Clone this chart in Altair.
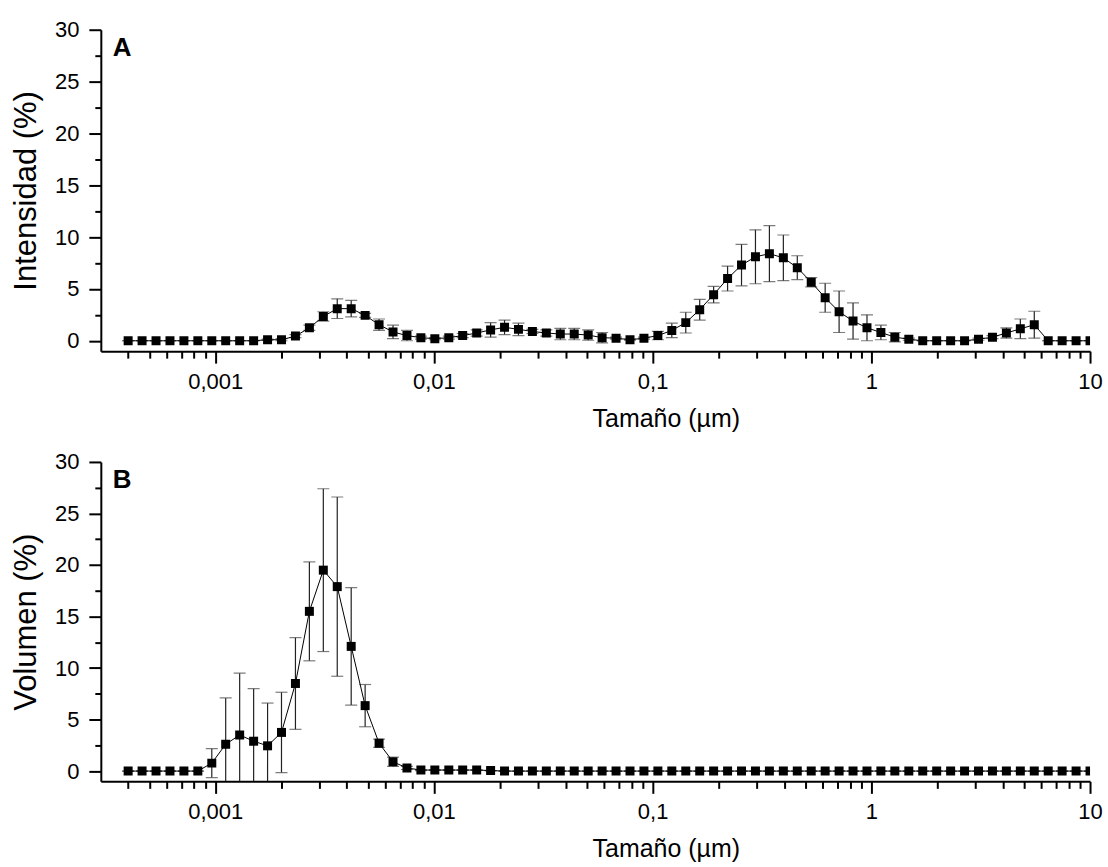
import altair as alt
import pandas as pd

# Malvern size classes (nm)
size_nm = [0.4, 0.4632, 0.5365, 0.6213, 0.7195, 0.8332, 0.9650, 1.117, 1.294, 1.499,
           1.736, 2.010, 2.328, 2.696, 3.122, 3.615, 4.187, 4.849, 5.615, 6.503,
           7.531, 8.721, 10.10, 11.70, 13.54, 15.69, 18.17, 21.04, 24.36, 28.21,
           32.67, 37.84, 43.82, 50.75, 58.77, 68.06, 78.82, 91.28, 105.7, 122.4,
           141.8, 164.2, 190.1, 220.2, 255.0, 295.3, 342.0, 396.1, 458.7, 531.2,
           615.1, 712.4, 825.0, 955.4, 1106, 1281, 1484, 1718, 1990, 2305,
           2669, 3091, 3580, 4145, 4801, 5560, 6439, 7456, 8635, 10000]

int_mean = [0, 0, 0, 0, 0, 0, 0, 0, 0, 0,
            0.1, 0.1, 0.45, 1.25, 2.35, 3.1, 3.1, 2.45, 1.55, 0.85,
            0.5, 0.3, 0.2, 0.3, 0.5, 0.75, 1.05, 1.3, 1.1, 0.9,
            0.75, 0.65, 0.65, 0.55, 0.3, 0.25, 0.1, 0.25, 0.5, 1.0,
            1.75, 3.0, 4.45, 6.0, 7.3, 8.1, 8.4, 8.0, 7.05, 5.65,
            4.15, 2.8, 1.9, 1.25, 0.8, 0.35, 0.15, 0, 0, 0,
            0, 0.15, 0.35, 0.75, 1.15, 1.55, 0, 0, 0, 0]
int_err = [0, 0, 0, 0, 0, 0, 0, 0, 0, 0,
           0.05, 0.1, 0.15, 0.25, 0.45, 0.95, 0.8, 0.2, 0.55, 0.65,
           0.5, 0.15, 0.1, 0.15, 0.2, 0.3, 0.7, 0.7, 0.6, 0.2,
           0.3, 0.55, 0.55, 0.5, 0.5, 0.1, 0.05, 0.1, 0.4, 0.7,
           1.0, 1.0, 0.8, 1.2, 2.0, 2.6, 2.7, 2.2, 1.15, 0.45,
           1.4, 2.0, 1.75, 1.25, 0.7, 0.45, 0.1, 0, 0, 0,
           0, 0.1, 0.15, 0.5, 0.95, 1.3, 0, 0, 0, 0]

vol_mean = [0, 0, 0, 0, 0, 0, 0.77, 2.6, 3.5, 2.9,
            2.45, 3.75, 8.5, 15.5, 19.5, 17.9, 12.1, 6.35, 2.7, 0.9,
            0.3, 0.1, 0.1, 0.1, 0.1, 0.1, 0.05, 0, 0, 0,
            0, 0, 0, 0, 0, 0, 0, 0, 0, 0,
            0, 0, 0, 0, 0, 0, 0, 0, 0, 0,
            0, 0, 0, 0, 0, 0, 0, 0, 0, 0,
            0, 0, 0, 0, 0, 0, 0, 0, 0, 0]
vol_err = [0, 0, 0, 0, 0, 0, 1.4, 4.5, 6.0, 5.1,
           4.15, 3.9, 4.45, 4.8, 7.9, 8.7, 5.7, 2.05, 0.4, 0.45,
           0.15, 0.05, 0, 0, 0, 0, 0, 0, 0, 0,
           0, 0, 0, 0, 0, 0, 0, 0, 0, 0,
           0, 0, 0, 0, 0, 0, 0, 0, 0, 0,
           0, 0, 0, 0, 0, 0, 0, 0, 0, 0,
           0, 0, 0, 0, 0, 0, 0, 0, 0, 0]

x_major = [0.001, 0.01, 0.1, 1, 10]
x_minor = [0.0004, 0.0005, 0.0006, 0.0007, 0.0008, 0.0009,
           0.002, 0.003, 0.004, 0.005, 0.006, 0.007, 0.008, 0.009,
           0.02, 0.03, 0.04, 0.05, 0.06, 0.07, 0.08, 0.09,
           0.2, 0.3, 0.4, 0.5, 0.6, 0.7, 0.8, 0.9,
           2, 3, 4, 5, 6, 7, 8, 9]
y_major = [0, 5, 10, 15, 20, 25, 30]
y_minor = [2.5, 7.5, 12.5, 17.5, 22.5, 27.5]

FONT = "Liberation Sans"
W = 991


def panel(mean, err, ytitle, letter, h):
    df = pd.DataFrame({
        "x": [s / 1000 for s in size_nm],
        "y": mean,
        "lo": [m - e for m, e in zip(mean, err)],
        "hi": [m + e for m, e in zip(mean, err)],
    })
    xs = alt.Scale(type="log", domain=[0.0003, 10], nice=False)
    ys = alt.Scale(domain=[-1, 30], nice=False, zero=False)

    x_axis = alt.Axis(orient="bottom", values=x_major, tickSize=12, tickWidth=2,
                      domainWidth=2,
                      labelExpr="replace(toString(datum.value), '.', ',')",
                      labelFlush=False, labelOverlap=False, labelFontSize=22,
                      labelPadding=8, labelColor="black", labelFont=FONT,
                      title="Tamaño (µm)", titleFontSize=25, titleFont=FONT,
                      titleFontWeight="normal", titleColor="black", titlePadding=14,
                      titleX=566, grid=False, domainColor="black", tickColor="black")
    x_minor_axis = alt.Axis(orient="bottom", values=x_minor, tickSize=7, tickWidth=2,
                            labels=False, domain=False, title=None, grid=False,
                            tickColor="black")
    y_axis = alt.Axis(orient="left", values=y_major, tickSize=12, tickWidth=2,
                      domainWidth=2,
                      labelFontSize=22, labelPadding=10, labelColor="black",
                      labelFont=FONT, title=ytitle, titleFontSize=31, titleFont=FONT,
                      titleFontWeight="normal", titleColor="black", titlePadding=12,
                      grid=False, domainColor="black", tickColor="black")
    y_minor_axis = alt.Axis(orient="left", values=y_minor, tickSize=6, tickWidth=2,
                            labels=False, domain=False, title=None, grid=False,
                            tickColor="black")

    base = alt.Chart(df)
    bars = base.mark_rule(color="#222222", strokeWidth=1.2, clip=True).encode(
        x=alt.X("x:Q", scale=xs, axis=None),
        y=alt.Y("lo:Q", scale=ys, axis=None),
        y2="hi:Q",
    )
    caps_lo = base.mark_tick(color="#444444", orient="horizontal", size=12,
                             thickness=1.2, clip=True).encode(
        x=alt.X("x:Q", scale=xs, axis=None),
        y=alt.Y("lo:Q", scale=ys, axis=None),
    )
    caps_hi = base.mark_tick(color="#444444", orient="horizontal", size=12,
                             thickness=1.2, clip=True).encode(
        x=alt.X("x:Q", scale=xs, axis=None),
        y=alt.Y("hi:Q", scale=ys, axis=None),
    )
    line = base.mark_line(color="black", strokeWidth=1, clip=True).encode(
        x=alt.X("x:Q", scale=xs, axis=x_minor_axis),
        y=alt.Y("y:Q", scale=ys, axis=y_minor_axis),
    )
    pts = base.mark_point(shape="square", filled=True, size=81, color="black",
                          opacity=1, clip=True).encode(
        x=alt.X("x:Q", scale=xs, axis=x_axis),
        y=alt.Y("y:Q", scale=ys, axis=y_axis),
    )
    lab = alt.Chart(pd.DataFrame({"t": [letter]})).mark_text(
        align="left", baseline="top", fontSize=26, fontWeight="bold", font=FONT,
        color="black").encode(x=alt.value(12), y=alt.value(5), text="t:N")

    return alt.layer(bars, caps_lo, caps_hi, line, pts, lab).resolve_axis(
        x="independent", y="independent").properties(width=W, height=h)


chart = alt.vconcat(
    panel(int_mean, int_err, "Intensidad (%)", "A", 322),
    panel(vol_mean, vol_err, "Volumen (%)", "B", 320),
    spacing=20,
).properties(
    padding={"top": 18, "left": 10, "right": 5, "bottom": 0},
    background="white",
).configure_view(stroke=None)

chart.save("out.html", embed_options={"renderer": "svg", "actions": False})
